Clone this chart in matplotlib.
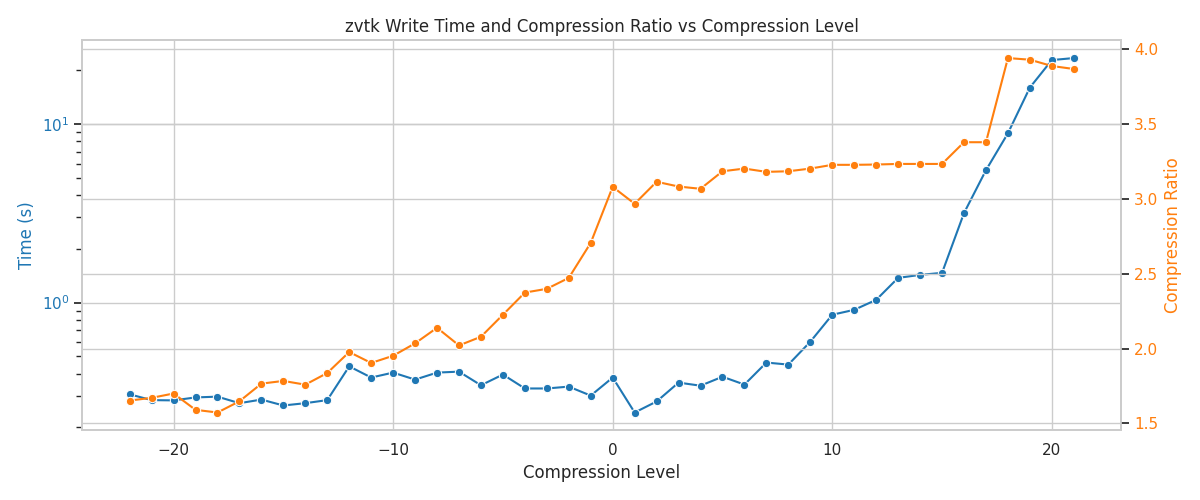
import matplotlib
matplotlib.use("Agg")
import matplotlib.pyplot as plt
import seaborn as sns

# compression levels -22 .. 21
levels = list(range(-22, 22))

# write time in seconds
write_time = [0.306, 0.284, 0.283, 0.294, 0.297, 0.273, 0.286, 0.265, 0.273, 0.284,
              0.439, 0.380, 0.405, 0.370, 0.405, 0.410, 0.344, 0.395, 0.330, 0.330,
              0.338, 0.301, 0.380, 0.242, 0.279, 0.356, 0.342, 0.384, 0.347, 0.461,
              0.449, 0.603, 0.854, 0.910, 1.035, 1.374, 1.428, 1.466, 3.17, 5.51,
              8.87, 16.0, 22.8, 23.4]

# compression ratio
comp_ratio = [1.653, 1.671, 1.700, 1.591, 1.573, 1.648, 1.766, 1.784, 1.759, 1.837,
              1.977, 1.904, 1.952, 2.035, 2.139, 2.021, 2.079, 2.226, 2.374, 2.399,
              2.472, 2.706, 3.080, 2.967, 3.114, 3.082, 3.067, 3.184, 3.202, 3.180,
              3.184, 3.202, 3.227, 3.227, 3.229, 3.233, 3.233, 3.233, 3.378, 3.378,
              3.940, 3.929, 3.887, 3.867]

sns.set_theme(style="whitegrid")

fig, ax1 = plt.subplots(figsize=(12, 5), dpi=100)

color1 = "tab:blue"
color2 = "tab:orange"

sns.lineplot(x=levels, y=write_time, marker="o", color=color1, ax=ax1)
ax1.set_yscale("log")
ax1.set_xlabel("Compression Level")
ax1.set_ylabel("Time (s)", color=color1)
ax1.tick_params(axis="y", labelcolor=color1, left=True, which="both")

ax2 = ax1.twinx()
sns.lineplot(x=levels, y=comp_ratio, marker="o", color=color2, ax=ax2)
ax2.set_ylabel("Compression Ratio", color=color2)
ax2.tick_params(axis="y", labelcolor=color2, right=True)

ax1.set_title("zvtk Write Time and Compression Ratio vs Compression Level")

fig.tight_layout()
fig.savefig("out.png")
